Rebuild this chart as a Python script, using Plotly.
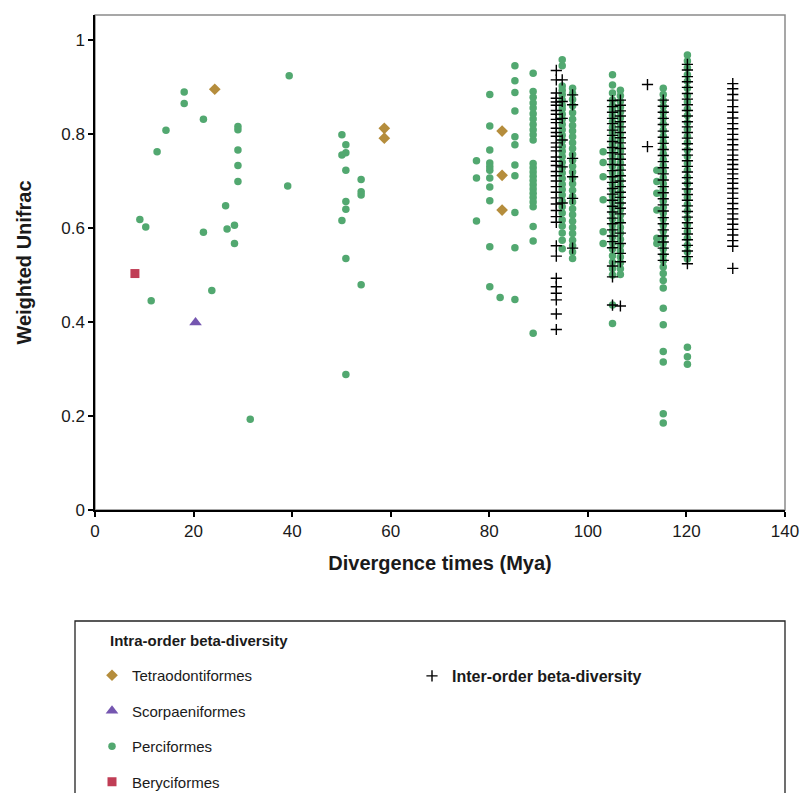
import plotly.graph_objects as go

# --- intra-order points (Mya, Weighted Unifrac) ---
tetra_x = [24.3, 58.7, 58.7, 82.6, 82.6, 82.6]
tetra_y = [0.895, 0.812, 0.791, 0.806, 0.712, 0.638]

scorp_x = [20.4]
scorp_y = [0.399]

bery_x = [8.1]
bery_y = [0.503]

# perciformes, scattered part
perc_x = [9.1, 10.3, 11.4, 12.6, 14.4, 18.1, 18.1, 22.0, 22.0, 23.7, 26.5, 26.8,
          28.3, 28.3, 29.0, 29.0, 29.0, 29.0, 29.0, 31.5, 39.4, 39.1,
          50.1, 50.9, 50.9, 50.1, 50.9, 54.0, 54.0, 54.0, 50.9, 50.9, 50.1, 50.9, 54.0, 50.9,
          77.4, 77.4, 77.4, 82.2]
perc_y = [0.618, 0.602, 0.445, 0.762, 0.808, 0.889, 0.865, 0.831, 0.591, 0.467, 0.647, 0.598,
          0.606, 0.567, 0.816, 0.809, 0.766, 0.733, 0.699, 0.193, 0.924, 0.689,
          0.798, 0.777, 0.760, 0.755, 0.723, 0.703, 0.677, 0.670, 0.656, 0.640, 0.616, 0.535, 0.479, 0.288,
          0.743, 0.706, 0.615, 0.452]

# perciformes, columns
perc_80 = [0.884, 0.817, 0.766, 0.738, 0.730, 0.723, 0.706, 0.687, 0.658, 0.560, 0.475]
perc_85 = [0.945, 0.913, 0.888, 0.849, 0.794, 0.777, 0.734, 0.711, 0.633, 0.558, 0.448]
perc_89 = [0.929, 0.890, 0.878, 0.866, 0.855, 0.843, 0.832, 0.820, 0.809, 0.798, 0.787,
           0.737, 0.728, 0.719, 0.710, 0.701, 0.692, 0.683, 0.674, 0.665, 0.655, 0.645,
           0.603, 0.572, 0.376]
perc_95 = [0.958, 0.945, 0.902, 0.893, 0.884, 0.872, 0.861, 0.853, 0.842, 0.831, 0.820, 0.809,
           0.797, 0.786, 0.774, 0.763, 0.752, 0.740, 0.728, 0.717, 0.705, 0.693, 0.682, 0.670,
           0.657, 0.645, 0.632, 0.617, 0.604, 0.589, 0.574, 0.556]
perc_97 = [0.897, 0.886, 0.873, 0.860, 0.845, 0.831, 0.818, 0.806, 0.794, 0.781, 0.769, 0.756,
           0.744, 0.731, 0.719, 0.706, 0.694, 0.680, 0.667, 0.655, 0.641, 0.628, 0.614, 0.601,
           0.588, 0.574, 0.562, 0.549, 0.535]
perc_103 = [0.762, 0.739, 0.709, 0.660, 0.592, 0.567]
perc_105 = [0.926, 0.904, 0.887, 0.872, 0.860, 0.851, 0.839, 0.826, 0.814, 0.803, 0.790, 0.778,
            0.767, 0.754, 0.742, 0.731, 0.718, 0.706, 0.693, 0.681, 0.668, 0.657, 0.644, 0.632,
            0.619, 0.606, 0.594, 0.581, 0.568, 0.555, 0.541, 0.527, 0.514, 0.500, 0.436, 0.397]
perc_107 = [0.893, 0.881, 0.869, 0.857, 0.846, 0.834, 0.822, 0.811, 0.799, 0.786, 0.774, 0.763,
            0.750, 0.738, 0.726, 0.714, 0.701, 0.689, 0.676, 0.664, 0.652, 0.639, 0.627, 0.614,
            0.601, 0.589, 0.576, 0.563, 0.551, 0.538, 0.526, 0.513, 0.501]
perc_114 = [0.723, 0.699, 0.674, 0.638, 0.578, 0.567]
perc_115 = [0.897, 0.884, 0.871, 0.859, 0.846, 0.834, 0.821, 0.808, 0.795, 0.783, 0.770, 0.758,
            0.745, 0.733, 0.720, 0.707, 0.694, 0.682, 0.669, 0.657, 0.644, 0.632, 0.619, 0.606,
            0.593, 0.580, 0.567, 0.555, 0.542, 0.530, 0.517, 0.503, 0.488, 0.472, 0.429, 0.394,
            0.337, 0.315, 0.205, 0.185]
perc_120 = [0.968, 0.955, 0.941, 0.926, 0.912, 0.897, 0.882, 0.868, 0.853, 0.839, 0.824, 0.810,
            0.795, 0.781, 0.766, 0.752, 0.737, 0.723, 0.708, 0.694, 0.679, 0.665, 0.650, 0.636,
            0.621, 0.607, 0.592, 0.578, 0.563, 0.549, 0.534, 0.346, 0.326, 0.310]

# inter-order points, columns
inter_935 = [0.935, 0.915, 0.887, 0.876, 0.868, 0.861, 0.850, 0.842, 0.831, 0.824, 0.812, 0.803,
             0.795, 0.781, 0.772, 0.764, 0.751, 0.742, 0.733, 0.720, 0.711, 0.700, 0.688, 0.676,
             0.664, 0.651, 0.637, 0.624, 0.612, 0.562, 0.540, 0.493, 0.475, 0.461, 0.447, 0.417, 0.384]
inter_948 = [0.915, 0.869, 0.833, 0.787, 0.730, 0.653]
inter_969 = [0.883, 0.862, 0.748, 0.709, 0.663, 0.557]
inter_105 = [0.871, 0.858, 0.846, 0.833, 0.822, 0.808, 0.797, 0.784, 0.771, 0.760, 0.747, 0.735,
             0.722, 0.709, 0.697, 0.684, 0.672, 0.659, 0.646, 0.634, 0.621, 0.609, 0.596, 0.583,
             0.571, 0.558, 0.519, 0.496, 0.436]
inter_107 = [0.872, 0.861, 0.849, 0.838, 0.826, 0.815, 0.803, 0.792, 0.781, 0.769, 0.757, 0.746,
             0.734, 0.723, 0.711, 0.700, 0.688, 0.676, 0.665, 0.653, 0.642, 0.630, 0.611, 0.589,
             0.567, 0.546, 0.528, 0.434]
inter_112 = [0.905, 0.773]
inter_115 = [0.872, 0.859, 0.846, 0.833, 0.820, 0.806, 0.793, 0.780, 0.767, 0.754, 0.741, 0.728,
             0.715, 0.702, 0.688, 0.675, 0.662, 0.649, 0.636, 0.622, 0.609, 0.596, 0.583, 0.570,
             0.557, 0.544, 0.531]
inter_120 = [0.948, 0.936, 0.922, 0.911, 0.899, 0.886, 0.874, 0.862, 0.850, 0.838, 0.826, 0.815,
             0.803, 0.791, 0.779, 0.767, 0.755, 0.743, 0.731, 0.719, 0.707, 0.695, 0.683, 0.671,
             0.659, 0.647, 0.635, 0.623, 0.611, 0.599, 0.587, 0.575, 0.563, 0.551, 0.539, 0.524]
inter_129 = [0.907, 0.896, 0.884, 0.872, 0.858, 0.846, 0.834, 0.822, 0.811, 0.799, 0.788, 0.777,
             0.766, 0.755, 0.745, 0.735, 0.725, 0.715, 0.705, 0.695, 0.684, 0.674, 0.663, 0.652,
             0.641, 0.630, 0.619, 0.608, 0.597, 0.585, 0.573, 0.561, 0.514]

perc_cols = [(80.1, perc_80), (85.2, perc_85), (88.9, perc_89), (94.8, perc_95), (96.9, perc_97),
             (103.1, perc_103), (105.0, perc_105), (106.6, perc_107), (114.0, perc_114),
             (115.3, perc_115), (120.2, perc_120)]
inter_cols = [(93.6, inter_935), (94.8, inter_948), (96.9, inter_969), (105.0, inter_105),
              (106.6, inter_107), (112.1, inter_112), (115.3, inter_115), (120.2, inter_120),
              (129.4, inter_129)]

px_all, py_all = list(perc_x), list(perc_y)
for xv, ys in perc_cols:
    px_all += [xv] * len(ys)
    py_all += ys
ix_all, iy_all = [], []
for xv, ys in inter_cols:
    ix_all += [xv] * len(ys)
    iy_all += ys

FONT = "Liberation Sans, Arial, sans-serif"

# full window; page margin removed in post_script below
W, H = 805, 793
L, R, T, B = 95, 20, 15, 283
plot_w, plot_h = W - L - R, H - T - B


def paper_x(px):
    return (px - L) / plot_w


def paper_y(py):
    return (H - B - py) / plot_h


fig = go.Figure()
fig.add_trace(go.Scatter(x=tetra_x, y=tetra_y, mode="markers", name="Tetraodontiformes",
                         legendgroup="a", marker=dict(symbol="diamond", size=9, color="#b58d3c")))
fig.add_trace(go.Scatter(x=scorp_x, y=scorp_y, mode="markers", name="Scorpaeniformes",
                         legendgroup="b", marker=dict(symbol="triangle-up", size=11, color="#7556b0")))
fig.add_trace(go.Scatter(x=px_all, y=py_all, mode="markers", name="Perciformes",
                         legendgroup="c", marker=dict(symbol="circle", size=7.5, color="#52a870")))
fig.add_trace(go.Scatter(x=bery_x, y=bery_y, mode="markers", name="Beryciformes",
                         legendgroup="d", marker=dict(symbol="square", size=9, color="#c03d55")))
fig.add_trace(go.Scatter(x=ix_all, y=iy_all, mode="markers", name="<b>Inter-order beta-diversity</b>",
                         legend="legend2",
                         marker=dict(symbol="cross-thin", size=8, color="black",
                                     line=dict(color="black", width=1.4))))

fig.update_layout(
    width=W, height=H,
    margin=dict(l=L, r=R, t=T, b=B, autoexpand=False),
    paper_bgcolor="white", plot_bgcolor="white",
    font=dict(family=FONT, size=17, color="#1a1a1a"),
    legend=dict(x=paper_x(92), xanchor="left", y=paper_y(659), yanchor="top",
                font=dict(family=FONT, size=15, color="#1a1a1a"),
                tracegroupgap=13, bgcolor="rgba(0,0,0,0)"),
    legend2=dict(x=paper_x(412), xanchor="left", y=paper_y(659), yanchor="top",
                 font=dict(family=FONT, size=16, color="#1a1a1a"),
                 bgcolor="rgba(0,0,0,0)"),
    shapes=[
        dict(type="rect", xref="paper", yref="paper", x0=0, x1=1, y0=0, y1=1,
             line=dict(color="#8a8a8a", width=1.5), layer="below"),
        dict(type="rect", xref="paper", yref="paper", x0=paper_x(75), x1=paper_x(785),
             y0=paper_y(621), y1=paper_y(810),
             line=dict(color="#222", width=1.3)),
    ],
    annotations=[
        dict(text="<b>Intra-order beta-diversity</b>", xref="paper", yref="paper",
             x=paper_x(108), y=paper_y(640), xanchor="left", yanchor="middle",
             showarrow=False, font=dict(family=FONT, size=15, color="#1a1a1a")),
    ],
)

fig.update_xaxes(range=[0, 140], dtick=20, tick0=0, showgrid=False, zeroline=False,
                 showline=True, linecolor="black", linewidth=1.5,
                 ticks="outside", ticklen=5, tickwidth=1.5, tickcolor="black",
                 ticklabeloverflow="allow",
                 title=dict(text="<b>Divergence times (Mya)</b>", font=dict(size=20), standoff=16))
fig.update_yaxes(range=[0, 1.053], dtick=0.2, tick0=0, showgrid=False, zeroline=False,
                 showline=True, linecolor="black", linewidth=1.5,
                 ticks="outside", ticklen=5, tickwidth=1.5, tickcolor="black",
                 title=dict(text="<b>Weighted Unifrac</b>", font=dict(size=20), standoff=24))

fig.write_html("out.html", config={"displayModeBar": False},
               post_script="document.body.style.margin='0';"
                           "document.documentElement.style.overflow='hidden';")
